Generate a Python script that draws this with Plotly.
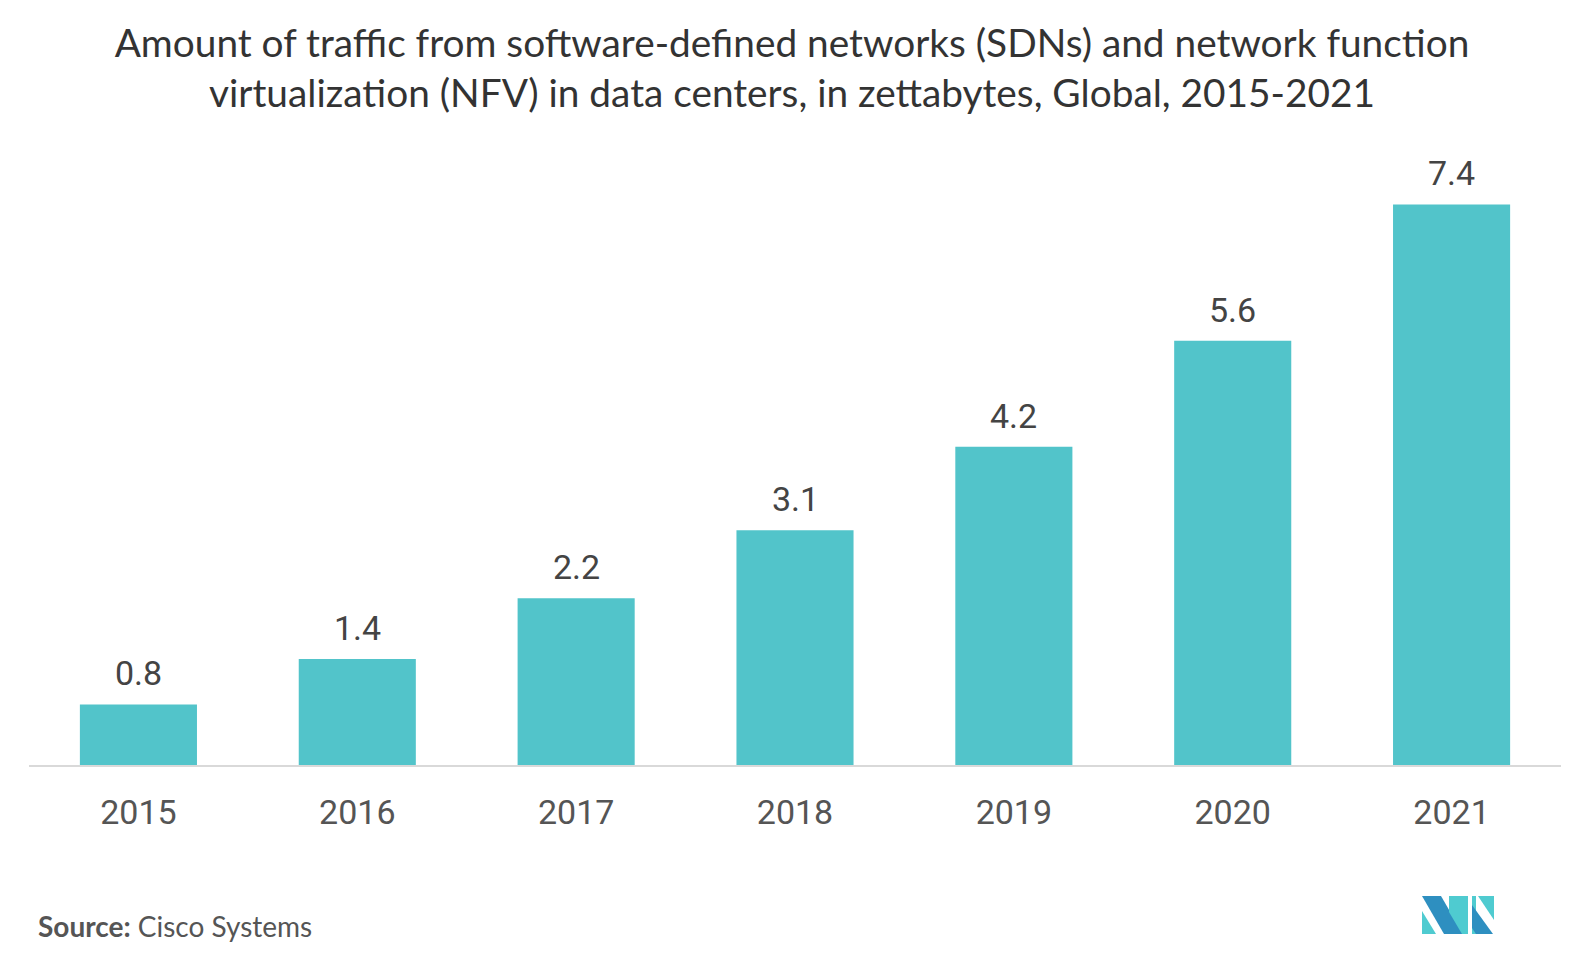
import plotly.graph_objects as go

years = ["2015", "2016", "2017", "2018", "2019", "2020", "2021"]
traffic_zb = [0.8, 1.4, 2.2, 3.1, 4.2, 5.6, 7.4]
value_labels = ["0.8", "1.4", "2.2", "3.1", "4.2", "5.6", "7.4"]

W, H = 1591, 968
OFF = 8  # page body margin
L, R, T, B = 29 - OFF, 1561 - OFF, 159 - OFF, 765 - OFF


def px(x):
    return (x - OFF - L) / (R - L)


def py(y):
    return (B - (y - OFF)) / (B - T)


fig = go.Figure()
fig.add_trace(go.Bar(
    x=years, y=traffic_zb,
    marker=dict(color="#52C4CA", line=dict(width=0)),
    width=0.535, hoverinfo="x+y",
))

for i, (v, lab) in enumerate(zip(traffic_zb, value_labels)):
    fig.add_annotation(
        x=i, y=v, xref="x", yref="y", text=lab, showarrow=False,
        yanchor="bottom", yshift=9,
        font=dict(family="Roboto", size=34, color="#444444"),
    )

fig.update_layout(
    width=W, height=H,
    margin=dict(l=L, r=W - R, t=T, b=H - B, autoexpand=False),
    paper_bgcolor="white", plot_bgcolor="white",
    showlegend=False,
    title=dict(
        text="Amount of traffic from software-defined networks (SDNs) and network function<br>virtualization (NFV) in data centers, in zettabytes, Global, 2015-2021",
        x=(792 - OFF) / W, xanchor="center", y=1 - 49 / H, yanchor="middle",
        font=dict(family="Lato", size=38.8, color="#333333"),
    ),
    xaxis=dict(
        type="category", categoryorder="array", categoryarray=years,
        range=[-0.5, len(years) - 0.5],
        showline=True, linecolor="#d9d9d9", linewidth=2, ticks="",
        showgrid=False, tickfont=dict(family="Roboto", size=34, color="#555555"),
        ticklabelstandoff=16, automargin=False,
    ),
    yaxis=dict(range=[0, 8], visible=False, showgrid=False, zeroline=False),
    bargap=0.465,
)

fig.add_annotation(
    xref="paper", yref="paper", x=px(36), y=py(926), xanchor="left", yanchor="middle",
    text="<b>Source:</b> Cisco Systems", showarrow=False,
    font=dict(family="Lato", size=28, color="#555555"),
)

# logo
dark = "#2E8FC0"
teal = "#4FCBD0"


def path(pts):
    return "M " + " L ".join(f"{px(a)} {py(b)}" for a, b in pts) + " Z"


shapes = [
    (path([(1422, 896), (1441, 896), (1463, 934), (1444, 934)]), dark),
    (path([(1422, 911), (1436, 934), (1422, 934)]), teal),
    (path([(1449, 896), (1468, 896), (1468, 934), (1462, 934), (1449, 912)]), teal),
    (path([(1472, 896), (1476, 896), (1476, 934), (1472, 934)]), teal),
    (path([(1472, 905), (1493, 934), (1476, 934), (1472, 928)]), dark),
    (path([(1478, 896), (1494, 896), (1494, 920)]), teal),
]
for p, c in shapes:
    fig.add_shape(type="path", path=p, xref="paper", yref="paper",
                  fillcolor=c, line=dict(width=0), layer="above")

fig.write_html("out.html")
